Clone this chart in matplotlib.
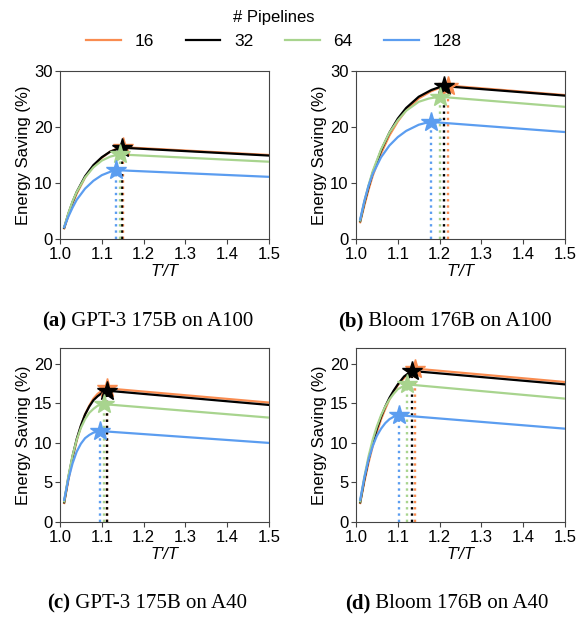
import matplotlib
matplotlib.use("Agg")
import matplotlib.pyplot as plt

plt.rcParams['font.family'] = ['Liberation Sans', 'DejaVu Sans']

labels = ["16", "32", "64", "128"]
colors = ["#f98c50", "#000000", "#a8d48e", "#5b9df0"]

# (a) GPT-3 175B on A100
a_x = {
    "16":  [1.01, 1.02, 1.03, 1.04, 1.06, 1.08, 1.10, 1.12, 1.135, 1.15, 1.5],
    "32":  [1.01, 1.02, 1.03, 1.04, 1.06, 1.08, 1.10, 1.12, 1.135, 1.148, 1.5],
    "64":  [1.01, 1.02, 1.03, 1.04, 1.06, 1.08, 1.10, 1.12, 1.13, 1.143, 1.5],
    "128": [1.01, 1.02, 1.03, 1.04, 1.06, 1.08, 1.10, 1.12, 1.133, 1.5],
}
a_y = {
    "16":  [1.9, 4.2, 6.3, 8.1, 11.0, 13.0, 14.5, 15.6, 16.1, 16.4, 15.0],
    "32":  [2.0, 4.5, 6.6, 8.4, 11.2, 13.2, 14.6, 15.6, 16.0, 16.3, 14.9],
    "64":  [2.1, 4.6, 6.7, 8.4, 11.0, 12.8, 14.0, 14.7, 14.9, 15.1, 13.8],
    "128": [2.1, 4.0, 5.6, 7.0, 9.0, 10.4, 11.4, 12.0, 12.3, 11.1],
}

# (b) Bloom 176B on A100
b_x = {
    "16":  [1.01, 1.02, 1.03, 1.04, 1.06, 1.08, 1.10, 1.12, 1.15, 1.18, 1.20, 1.22, 1.5],
    "32":  [1.01, 1.02, 1.03, 1.04, 1.06, 1.08, 1.10, 1.12, 1.15, 1.18, 1.195, 1.21, 1.5],
    "64":  [1.01, 1.02, 1.03, 1.04, 1.06, 1.08, 1.10, 1.12, 1.15, 1.175, 1.20, 1.5],
    "128": [1.01, 1.02, 1.03, 1.04, 1.06, 1.08, 1.10, 1.12, 1.15, 1.165, 1.18, 1.5],
}
b_y = {
    "16":  [3.0, 6.0, 8.8, 11.3, 15.3, 18.5, 21.0, 23.0, 25.1, 26.4, 27.0, 27.4, 25.7],
    "32":  [3.2, 6.5, 9.3, 11.8, 15.8, 19.0, 21.5, 23.4, 25.4, 26.6, 27.0, 27.3, 25.6],
    "64":  [3.3, 6.7, 9.6, 12.1, 16.0, 19.0, 21.2, 22.9, 24.5, 25.1, 25.4, 23.6],
    "128": [3.5, 6.8, 9.5, 11.6, 14.6, 16.7, 18.2, 19.3, 20.4, 20.7, 20.9, 19.1],
}

# (c) GPT-3 175B on A40
c_x = {
    "16":  [1.01, 1.02, 1.03, 1.04, 1.05, 1.06, 1.07, 1.08, 1.09, 1.10, 1.112, 1.5],
    "32":  [1.01, 1.02, 1.03, 1.04, 1.05, 1.06, 1.07, 1.08, 1.09, 1.10, 1.113, 1.5],
    "64":  [1.01, 1.02, 1.03, 1.04, 1.05, 1.06, 1.07, 1.08, 1.09, 1.105, 1.5],
    "128": [1.01, 1.02, 1.03, 1.04, 1.05, 1.06, 1.07, 1.08, 1.096, 1.5],
}
c_y = {
    "16":  [2.4, 5.3, 8.0, 10.3, 12.1, 13.6, 14.7, 15.6, 16.2, 16.6, 16.9, 15.1],
    "32":  [2.5, 5.6, 8.3, 10.5, 12.2, 13.6, 14.6, 15.4, 15.9, 16.3, 16.6, 14.8],
    "64":  [2.6, 5.8, 8.4, 10.4, 11.9, 13.0, 13.8, 14.3, 14.7, 14.9, 13.2],
    "128": [2.8, 5.4, 7.4, 8.9, 9.9, 10.6, 11.0, 11.3, 11.5, 10.0],
}

# (d) Bloom 176B on A40
d_x = {
    "16":  [1.01, 1.02, 1.03, 1.04, 1.05, 1.06, 1.07, 1.08, 1.09, 1.10, 1.12, 1.14, 1.5],
    "32":  [1.01, 1.02, 1.03, 1.04, 1.05, 1.06, 1.07, 1.08, 1.09, 1.10, 1.115, 1.133, 1.5],
    "64":  [1.01, 1.02, 1.03, 1.04, 1.05, 1.06, 1.07, 1.08, 1.09, 1.10, 1.122, 1.5],
    "128": [1.01, 1.02, 1.03, 1.04, 1.05, 1.06, 1.07, 1.08, 1.09, 1.104, 1.5],
}
d_y = {
    "16":  [2.4, 5.1, 7.5, 9.6, 11.4, 13.0, 14.3, 15.5, 16.5, 17.3, 18.5, 19.4, 17.7],
    "32":  [2.5, 5.4, 7.9, 10.0, 11.8, 13.3, 14.6, 15.7, 16.6, 17.4, 18.4, 19.1, 17.4],
    "64":  [2.6, 5.7, 8.3, 10.4, 12.1, 13.5, 14.6, 15.5, 16.2, 16.8, 17.4, 15.6],
    "128": [2.8, 5.6, 7.9, 9.6, 10.9, 11.8, 12.5, 13.0, 13.3, 13.5, 11.8],
}

panels = [
    (a_x, a_y, [0, 10, 20, 30], (0, 30), "(a)", "GPT-3 175B on A100"),
    (b_x, b_y, [0, 10, 20, 30], (0, 30), "(b)", "Bloom 176B on A100"),
    (c_x, c_y, [0, 5, 10, 15, 20], (0, 22), "(c)", "GPT-3 175B on A40"),
    (d_x, d_y, [0, 5, 10, 15, 20], (0, 22), "(d)", "Bloom 176B on A40"),
]

W, H = 587, 619
fig = plt.figure(figsize=(W / 100, H / 100), dpi=100)

# axes boxes in pixels: left, top, right, bottom
boxes = [(60, 71, 269, 239), (356, 71, 565, 239),
         (60, 348, 269, 522), (356, 348, 565, 522)]
caption_pos = [(148, 321), (445, 321), (147, 603), (447, 603)]

handles = []
for i, (px, py, yt, ylim, tag, cap) in enumerate(panels):
    l, t, r, b = boxes[i]
    ax = fig.add_axes([l / W, 1 - b / H, (r - l) / W, (b - t) / H])
    for lab, col in zip(labels, colors):
        xs, ys = px[lab], py[lab]
        ln, = ax.plot(xs, ys, color=col, lw=1.6, zorder=3)
        k = ys.index(max(ys))
        ax.plot([xs[k], xs[k]], [0, ys[k]], color=col, lw=1.7, ls=':', zorder=2)
        ax.plot(xs[k], ys[k], marker='*', ms=15, color=col, zorder=4)
        if i == 0:
            handles.append(ln)
    ax.set_xlim(1.0, 1.5)
    ax.set_ylim(*ylim)
    ax.set_xticks([1.0, 1.1, 1.2, 1.3, 1.4, 1.5])
    ax.set_yticks(yt)
    ax.tick_params(labelsize=12, length=3.5, color='#444444', pad=2)
    for s in ax.spines.values():
        s.set_color('#444444')
    ax.set_ylabel("Energy Saving (%)", fontsize=12, labelpad=2)
    ax.set_xlabel("T'/T", fontsize=12, style='italic', labelpad=2)

# captions with bold tag
renderer = fig.canvas.get_renderer()
for i, (px, py, yt, ylim, tag, cap) in enumerate(panels):
    cx, cy = caption_pos[i]
    t1 = fig.text(0, 1 - cy / H, tag, fontsize=15, fontweight='bold',
                  family='Liberation Serif', va='center')
    t2 = fig.text(0, 1 - cy / H, " " + cap, fontsize=15,
                  family='Liberation Serif', va='center')
    w1 = t1.get_window_extent(renderer).width
    w2 = t2.get_window_extent(renderer).width
    x0 = cx - (w1 + w2) / 2
    t1.set_x(x0 / W)
    t2.set_x((x0 + w1) / W)

fig.legend(handles, labels, title="# Pipelines", ncol=4, loc='upper center',
           bbox_to_anchor=(274 / W, 1.0), frameon=False, fontsize=12.5,
           title_fontsize=12, handlelength=2.0, columnspacing=1.8,
           handletextpad=0.8, borderaxespad=0.2, labelspacing=0.5)

fig.savefig("out.png", dpi=100)
